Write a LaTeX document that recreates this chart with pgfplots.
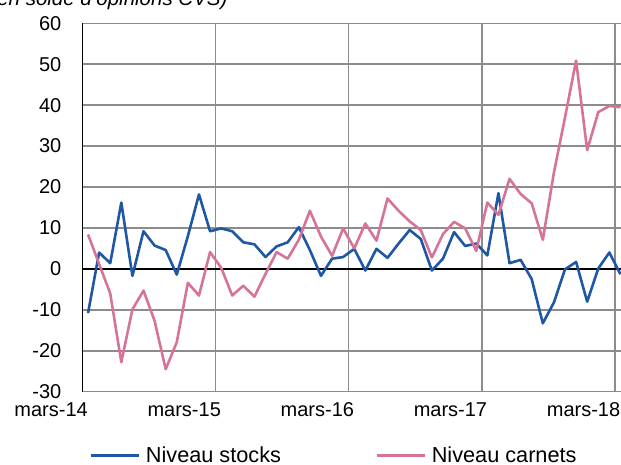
\documentclass[border=0pt]{standalone}
\usepackage{fontspec}
\setmainfont{Liberation Sans}
\usepackage{pgfplots}
\pgfplotsset{compat=1.18}
\usepackage{pgfplotstable}
\definecolor{cblue}{RGB}{31,87,165}
\definecolor{cpink}{RGB}{214,115,153}
\definecolor{cgrid}{RGB}{140,140,140}

\pgfplotstableread{
x stocks carnets
0.5 -10.8 8.4
1.5 4.0 1.2
2.5 1.4 -6.0
3.5 16.2 -22.8
4.5 -1.7 -9.9
5.5 9.2 -5.3
6.5 5.7 -12.7
7.5 4.6 -24.5
8.5 -1.4 -17.9
9.5 8.0 -3.4
10.5 18.2 -6.5
11.5 9.2 4.1
12.5 9.9 0.3
13.5 9.2 -6.5
14.5 6.5 -4.1
15.5 6.0 -6.8
16.5 2.9 -1.2
17.5 5.5 4.1
18.5 6.5 2.5
19.5 10.2 7.1
20.5 4.6 14.2
21.5 -1.7 7.9
22.5 2.5 3.2
23.5 2.9 9.9
24.5 4.9 5.0
25.5 -0.4 11.1
26.5 4.9 6.9
27.5 2.7 17.2
28.5 6.2 14.2
29.5 9.5 11.6
30.5 7.3 9.5
31.5 -0.4 2.8
32.5 2.5 8.5
33.5 9.0 11.5
34.5 5.6 9.9
35.5 6.2 4.4
36.5 3.3 16.2
37.5 18.5 13.2
38.5 1.4 22.0
39.5 2.2 18.3
40.5 -2.5 16.0
41.5 -13.3 7.1
42.5 -8.2 23.5
43.5 -0.1 37.0
44.5 1.7 50.9
45.5 -8.0 29.0
46.5 0.1 38.3
47.5 4.0 39.8
48.5 -1.3 39.5
}\mydata

\begin{document}
\begin{tikzpicture}
\useasboundingbox (0,0) rectangle (621bp,465bp);
\node[anchor=base east, font=\itshape\fontsize{20.5bp}{25bp}\selectfont, inner sep=0pt] at (227.7bp,459bp) {(en solde d'opinions CVS)};
\begin{axis}[
  at={(82.5bp,73.3bp)}, anchor=south west,
  scale only axis, width=538.5bp, height=368.4bp,
  xmin=0, xmax=48.55, ymin=-30, ymax=60,
  xtick={0,12,24,36,48},
  xticklabels={mars-14,mars-15,mars-16,mars-17,mars-18},
  ytick={-30,-20,...,60},
  extra y ticks={0}, extra y tick labels={},
  extra y tick style={grid style={black, line width=1.5bp}},
  xmajorgrids, ymajorgrids,
  grid style={cgrid, line width=1.5bp},
  axis x line=bottom, axis y line=left,
  x axis line style={cgrid, line width=1.5bp, -},
  y axis line style={black, line width=1.5bp, -},
  major tick length=0pt,
  tick style={draw=none},
  /pgf/number format/assume math mode=true,
  ticklabel style={font=\fontsize{20bp}{24bp}\selectfont, inner sep=0pt},
  yticklabel style={anchor=east, xshift=-21bp},
  xticklabel style={anchor=north east, xshift=5.5bp, yshift=-11bp},
  legend columns=2,
  legend cell align=left,
  legend style={at={(axis description cs:0.012,-0.172)}, anchor=west, draw=none, fill=none, inner sep=0pt,
    font=\fontsize{21.7bp}{26bp}\selectfont,
    /tikz/every even column/.append style={column sep=92bp}},
  legend image code/.code={\draw[#1, line width=3bp] (0bp,0bp) -- (48bp,0bp); \path (52bp,0bp);},
]
\addplot[cblue, line width=2.6bp, line join=round] table[x=x, y=stocks] {\mydata};
\addlegendentry{Niveau stocks}
\addplot[cpink, line width=2.6bp, line join=round] table[x=x, y=carnets] {\mydata};
\addlegendentry{Niveau carnets}
\end{axis}
\end{tikzpicture}
\end{document}
